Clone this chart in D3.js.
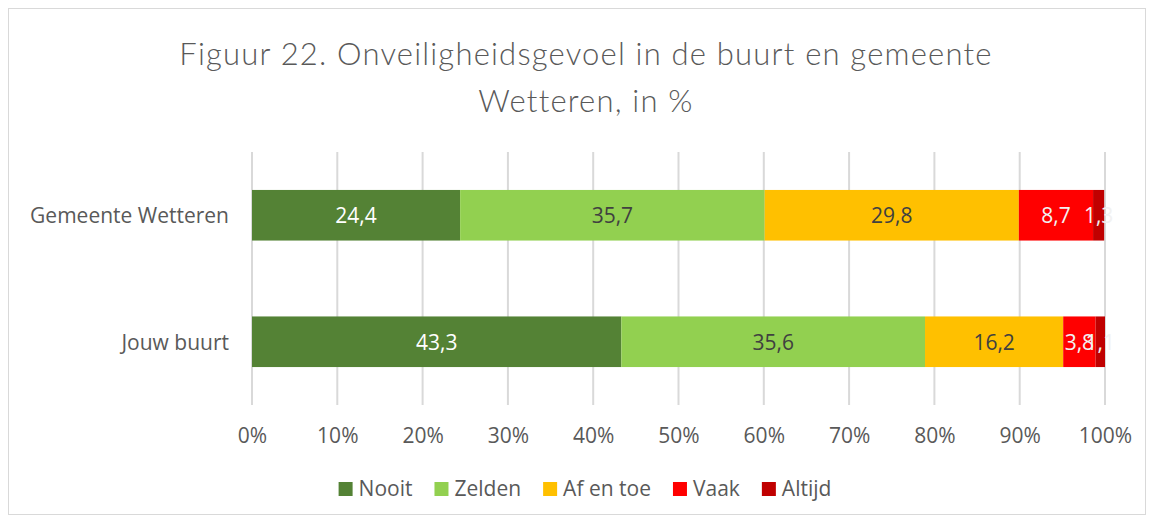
<!DOCTYPE html>
<html>
<head>
<script src="https://cdnjs.cloudflare.com/ajax/libs/d3/7.8.5/d3.min.js"></script>
<style>
  body { margin: 0; background: #fff; }
</style>
</head>
<body>
<div id="chart"></div>
<script>
const categories = ["Gemeente Wetteren", "Jouw buurt"];
const seriesNames = ["Nooit", "Zelden", "Af en toe", "Vaak", "Altijd"];
const gemeenteValues = [24.4, 35.7, 29.8, 8.7, 1.3];
const buurtValues = [43.3, 35.6, 16.2, 3.8, 1.1];
const tickValues = [0, 10, 20, 30, 40, 50, 60, 70, 80, 90, 100];

const colors = ["#548235", "#92d050", "#ffc000", "#ff0000", "#c00000"];
const labelColors = ["#ffffff", "#404040", "#404040", "#f2f2f2", "#f2f2f2"];

const W = 1153, H = 522;
const FONT = "'Open Sans', sans-serif";
const svg = d3.select("#chart").append("svg").attr("width", W).attr("height", H);

// outer frame
svg.append("rect").attr("x", 8.5).attr("y", 8.5).attr("width", 1137).attr("height", 506)
   .attr("fill", "#fff").attr("stroke", "#d9d9d9").attr("stroke-width", 1);

// title
const title = svg.append("text").attr("text-anchor", "middle")
   .style("font-family", "Lato, 'Open Sans', sans-serif").style("font-weight", 300)
   .style("font-size", "31px").style("letter-spacing", "1.2px").attr("fill", "#595959");
title.append("tspan").attr("x", 586).attr("y", 65).text("Figuur 22. Onveiligheidsgevoel in de buurt en gemeente");
title.append("tspan").attr("x", 586).attr("y", 112).text("Wetteren, in %");

const x = d3.scaleLinear().domain([0, 100]).range([252, 1105]);
const y = d3.scaleBand().domain(categories).range([152, 405]).paddingInner(0.6).paddingOuter(0.3);

// gridlines
svg.append("g").selectAll("line").data(tickValues).enter().append("line")
   .attr("x1", d => x(d)).attr("x2", d => x(d))
   .attr("y1", 152).attr("y2", 405)
   .attr("stroke", "#d9d9d9").attr("stroke-width", 2);

const rows = [gemeenteValues, buurtValues];
const data = categories.map((c, i) => {
  let s = 0;
  return { name: c, parts: rows[i].map((v, k) => { const p = { k: k, start: s, value: v }; s += v; return p; }) };
});

const groups = svg.selectAll(".bar").data(data).enter().append("g")
   .attr("transform", d => "translate(0," + y(d.name) + ")");

groups.selectAll("rect").data(d => d.parts).enter().append("rect")
   .attr("x", d => x(d.start)).attr("y", 0)
   .attr("width", d => x(d.start + d.value) - x(d.start))
   .attr("height", y.bandwidth())
   .attr("fill", d => colors[d.k]);

groups.selectAll("text").data(d => d.parts).enter().append("text")
   .attr("x", d => (x(d.start) + x(d.start + d.value)) / 2)
   .attr("y", y.bandwidth() / 2 + 8)
   .attr("text-anchor", "middle")
   .style("font-family", FONT).style("font-size", "21px")
   .attr("fill", d => labelColors[d.k])
   .text(d => String(d.value).replace(".", ","));

// category labels
svg.selectAll(".cat").data(categories).enter().append("text")
   .attr("x", 229).attr("y", d => y(d) + y.bandwidth() / 2 + 8)
   .attr("text-anchor", "end")
   .style("font-family", FONT).style("font-size", "21px")
   .attr("fill", "#595959").text(d => d);

// x axis
const axis = svg.append("g").attr("transform", "translate(0,405)")
   .call(d3.axisBottom(x).tickValues(tickValues).tickFormat(d => d + "%").tickSize(0).tickPadding(23));
axis.select(".domain").remove();
axis.selectAll("text").style("font-family", FONT).style("font-size", "21px").attr("fill", "#595959");

// legend, laid out from measured text widths and centred
const legend = svg.append("g");
const items = legend.selectAll(".lg").data(seriesNames).enter().append("g");
items.append("rect").attr("y", -14).attr("width", 14).attr("height", 14).attr("fill", (d, i) => colors[i]);
items.append("text").attr("x", 20).attr("y", 0)
   .style("font-family", FONT).style("font-size", "21px")
   .attr("fill", "#595959").text(d => d);
let lx = 0;
items.each(function () {
  d3.select(this).attr("transform", "translate(" + lx + ",0)");
  lx += 20 + this.querySelector("text").getComputedTextLength() + 22;
});
const legendW = lx - 22;
legend.attr("transform", "translate(" + (585 - legendW / 2) + ",496)");
</script>
</body>
</html>
